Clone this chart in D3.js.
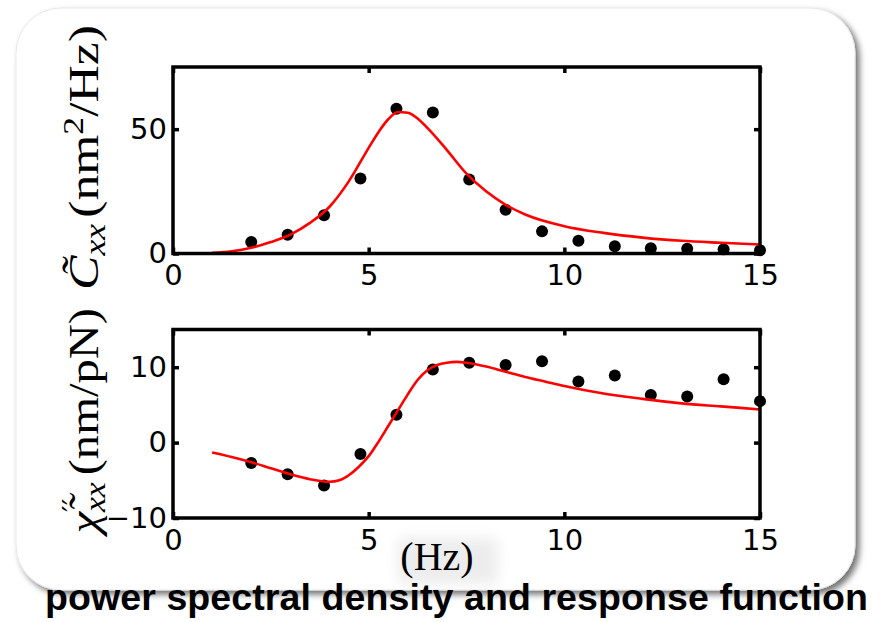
<!DOCTYPE html>
<html>
<head>
<meta charset="utf-8">
<script src="https://cdn.jsdelivr.net/npm/d3@7"></script>
<style>
  html, body { margin: 0; padding: 0; background: #fff; }
  svg { display: block; }
</style>
</head>
<body>
<svg id="fig" width="894" height="622"></svg>
<script>
// Measured driving frequencies (Hz)
const freq = [2.0, 2.93, 3.86, 4.79, 5.71, 6.64, 7.57, 8.5, 9.43, 10.36, 11.29, 12.21, 13.14, 14.07, 15.0];
// Power spectral density C_xx (nm^2/Hz), measured
const psdMeasured = [4.6, 7.5, 15.4, 30.2, 58.2, 56.7, 29.8, 17.6, 8.9, 5.1, 2.9, 2.1, 1.9, 1.7, 1.3];
// Dissipative response chi''_xx (nm/pN), measured
const chiMeasured = [-2.7, -4.2, -5.7, -1.5, 3.7, 9.7, 10.6, 10.3, 10.8, 8.1, 8.9, 6.3, 6.1, 8.4, 5.5];

// Model curves sampled along frequency
const fitFreqPsd = [1.0, 1.5, 2.0, 2.5, 3.0, 3.5, 4.0, 4.5, 5.0, 5.25, 5.5, 5.75, 6.0, 6.25, 6.5, 7.0, 7.5, 8.0, 8.5, 9.0, 10.0, 11.0, 12.0, 13.0, 14.0, 15.0];
const psdFit = [0.3, 0.9, 2.3, 4.6, 7.6, 12.3, 18.8, 29.2, 42.5, 48.8, 54.0, 56.9, 56.6, 54.3, 50.5, 41.6, 32.1, 25.0, 19.6, 15.7, 11.0, 8.3, 6.4, 5.1, 4.3, 3.6];
const fitFreqChi = [1.0, 1.5, 2.0, 2.5, 3.0, 3.5, 4.0, 4.25, 4.5, 4.75, 5.0, 5.25, 5.5, 5.75, 6.0, 6.25, 6.5, 6.75, 7.0, 7.25, 7.5, 8.0, 8.5, 9.0, 9.5, 10.0, 11.0, 12.0, 13.0, 14.0, 15.0];
const chiFit = [-1.3, -1.9, -2.6, -3.4, -4.2, -4.85, -5.2, -5.0, -4.3, -3.2, -1.8, 0.1, 2.2, 4.3, 6.4, 8.3, 9.6, 10.3, 10.6, 10.7, 10.6, 10.1, 9.4, 8.7, 8.1, 7.5, 6.5, 5.8, 5.2, 4.8, 4.4];

// Tick values
const freqTicks = [0, 5, 10, 15];
const psdTicks = [0, 50];
const chiTicks = [-10, 0, 10];

const svg = d3.select("#fig");
const defs = svg.append("defs");

const shadow = defs.append("filter").attr("id", "cardShadow")
  .attr("x", "-5%").attr("y", "-5%").attr("width", "115%").attr("height", "115%");
shadow.append("feDropShadow").attr("dx", 4).attr("dy", 4).attr("stdDeviation", 3)
  .attr("flood-color", "#000").attr("flood-opacity", 0.55);

const haze = defs.append("filter").attr("id", "haze")
  .attr("x", "-50%").attr("y", "-50%").attr("width", "200%").attr("height", "200%");
haze.append("feGaussianBlur").attr("stdDeviation", 7);

// Rounded card behind both panels
svg.append("rect")
  .attr("x", 16).attr("y", 8).attr("width", 839).attr("height", 582).attr("rx", 45)
  .attr("fill", "#fff").attr("stroke", "#e6e6e6").attr("stroke-width", 1)
  .attr("filter", "url(#cardShadow)");

const x = d3.scaleLinear().domain([0, 15]).range([173, 760]);

function drawPanel(yDomain, yRange, yTicks, fitF, fitV, ptsF, ptsV) {
  const y = d3.scaleLinear().domain(yDomain).range(yRange);
  const g = svg.append("g");
  const [yb, yt] = yRange;

  // data points
  g.append("g").selectAll("circle")
    .data(ptsF.map((f, i) => [f, ptsV[i]]))
    .join("circle")
    .attr("cx", d => x(d[0])).attr("cy", d => y(d[1])).attr("r", 6)
    .attr("fill", "#000");

  // model curve
  g.append("path")
    .datum(fitF.map((f, i) => [f, fitV[i]]))
    .attr("d", d3.line().x(d => x(d[0])).y(d => y(d[1])).curve(d3.curveMonotoneX))
    .attr("fill", "none").attr("stroke", "#ff0000").attr("stroke-width", 2.6)
    .attr("stroke-linejoin", "round");

  const styleAxis = a => {
    a.select(".domain").remove();
    a.selectAll(".tick line").attr("stroke", "#000").attr("stroke-width", 3.5);
    a.selectAll("text").attr("font-family", "DejaVu Sans").attr("font-size", 29).attr("fill", "#000");
  };

  g.append("g").attr("transform", `translate(0,${yb})`)
    .call(d3.axisBottom(x).tickValues(freqTicks).tickSizeInner(-6).tickSizeOuter(0).tickPadding(11))
    .call(styleAxis);
  g.append("g").attr("transform", `translate(0,${yt})`)
    .call(d3.axisTop(x).tickValues(freqTicks).tickSizeInner(-6).tickSizeOuter(0).tickFormat(""))
    .call(styleAxis);
  g.append("g").attr("transform", `translate(${x.range()[0]},0)`)
    .call(d3.axisLeft(y).tickValues(yTicks).tickSizeInner(-6).tickSizeOuter(0).tickPadding(6))
    .call(styleAxis);
  g.append("g").attr("transform", `translate(${x.range()[1]},0)`)
    .call(d3.axisRight(y).tickValues(yTicks).tickSizeInner(-6).tickSizeOuter(0).tickFormat(""))
    .call(styleAxis);

  // frame
  g.append("rect")
    .attr("x", x.range()[0]).attr("y", yt)
    .attr("width", x.range()[1] - x.range()[0]).attr("height", yb - yt)
    .attr("fill", "none").attr("stroke", "#000").attr("stroke-width", 3.5);
}

drawPanel([0, 75], [253.5, 67], psdTicks, fitFreqPsd, psdFit, freq, psdMeasured);
drawPanel([-10, 15], [518, 329.5], chiTicks, fitFreqChi, chiFit, freq, chiMeasured);

// Rotated math-style axis titles
function yLabel(parts, xBase, yBottom, length) {
  const t = svg.append("text")
    .attr("font-family", "Liberation Serif, serif").attr("font-size", 42).attr("fill", "#000");
  const spans = parts.map(p => {
    const ts = t.append("tspan").text(p.s);
    if (p.it) ts.attr("font-style", "italic");
    if (p.fs) ts.attr("font-size", p.fs);
    if (p.ff) ts.attr("font-family", p.ff);
    if (p.dy) ts.attr("dy", p.dy);
    if (p.dx) ts.attr("dx", p.dx);
    return ts;
  });
  parts.forEach((p, i) => {
    if (p.back) spans[i].attr("dx", -spans[i - 1].node().getComputedTextLength());
  });
  const bb = t.node().getBBox();
  const k = length / bb.width;
  t.attr("transform", `translate(${xBase},${yBottom}) rotate(-90) scale(${k},1) translate(${-bb.x},0)`);
}

yLabel([
  { s: "C\u0303", it: true },
  { s: "xx", it: true, fs: 29, dy: 7 },
  { s: "(nm", dy: -7, dx: 5 },
  { s: "2", fs: 29, dy: -15 },
  { s: "/Hz)", dy: 15 }
], 98, 290, 265);

yLabel([
  { s: "\u03C7\u0303", it: true },
  { s: "\u2032\u2032", fs: 26, dy: -17, ff: "DejaVu Serif" },
  { s: "xx", it: true, fs: 29, dy: 24, back: true },
  { s: "(nm/pN)", dy: -7, dx: 6 }
], 98, 538, 230);

// x-axis unit label with its soft backdrop
svg.append("rect")
  .attr("x", 398).attr("y", 538).attr("width", 100).attr("height", 46)
  .attr("fill", "#000").attr("opacity", 0.07).attr("filter", "url(#haze)");
svg.append("text")
  .attr("x", 437).attr("y", 570).attr("text-anchor", "middle")
  .attr("font-family", "Liberation Serif, serif").attr("font-size", 40).attr("fill", "#000")
  .text("(Hz)");

// Caption
svg.append("text")
  .attr("x", 45).attr("y", 610)
  .attr("font-family", "Liberation Sans, Arial, sans-serif").attr("font-weight", "bold")
  .attr("font-size", 37.5).attr("fill", "#000")
  .attr("textLength", 823).attr("lengthAdjust", "spacing")
  .text("power spectral density and response function");
</script>
</body>
</html>
